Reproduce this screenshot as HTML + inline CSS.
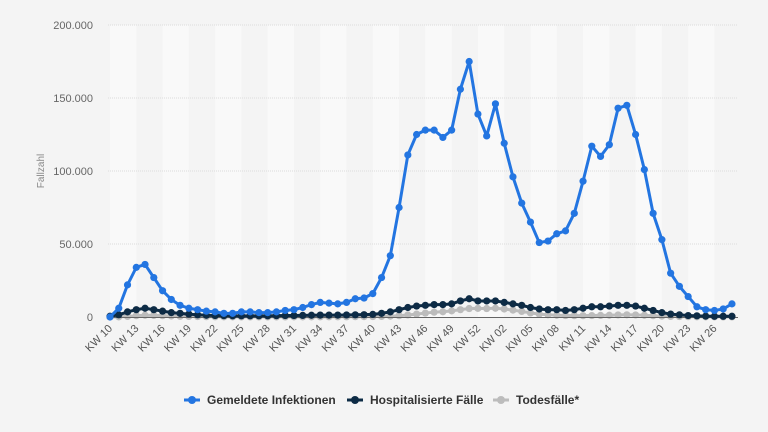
<!DOCTYPE html>
<html><head><meta charset="utf-8"><style>
body{margin:0;background:#f4f4f4;font-family:"Liberation Sans",sans-serif}
#c{position:absolute;left:0;top:0}
</style></head><body>
<svg id="c" width="768" height="432" xmlns="http://www.w3.org/2000/svg"></svg>
<script>
const labels2020=[];for(let k=10;k<=53;k++)labels2020.push("KW "+String(k).padStart(2,"0"));
const labels2021=[];for(let k=1;k<=28;k++)labels2021.push("KW "+String(k).padStart(2,"0"));
const categories=labels2020.concat(labels2021);
const infections=[0,6000,22000,34000,36000,27000,18000,12000,8000,6000,5000,4000,3500,2500,2500,3500,3500,3000,3000,3500,4500,5000,6500,8500,10000,9500,9000,10000,12500,13000,16000,27000,42000,75000,111000,125000,128000,128000,123000,128000,156000,175000,139000,124000,
146000,119000,96000,78000,65000,51000,52000,57000,59000,71000,93000,117000,110000,118000,143000,145000,125000,101000,71000,53000,30000,21000,14000,7000,5000,4500,5500,9000];
const hospital=[500,1500,3500,5000,6000,5000,4000,3000,2500,2000,1500,1200,1000,900,800,800,800,800,800,900,1000,1000,1100,1200,1300,1300,1300,1400,1500,1600,1800,2500,3500,5000,6500,7500,8000,8500,8500,9000,11000,12500,11000,11000,
11000,10000,9000,8000,6500,5500,5000,5000,4500,5000,6000,7000,7000,7500,8000,8000,7500,6000,4500,3000,2000,1500,1000,800,600,500,500,500];
const deaths=[0,100,400,900,1200,1100,900,700,500,400,300,200,150,100,80,60,60,50,50,60,70,80,100,100,120,120,130,150,200,250,300,400,600,900,1400,2000,2700,3300,3600,4200,5000,5800,5900,5800,
6000,5500,4700,3800,2800,2000,1500,1200,1000,900,900,1000,1100,1200,1400,1500,1400,1200,900,600,400,300,200,150,100,80,60,50];
const yTicks=[0,50000,100000,150000,200000];
const yTickLabels=["0","50.000","100.000","150.000","200.000"];
const NS="http://www.w3.org/2000/svg",svg=document.getElementById("c");
const x0=110,dx=8.76,yb=317,yt=25,ymax=200000;
const X=i=>x0+i*dx, Y=v=>yb-(v/ymax)*(yb-yt);
function mk(t,a,p){const e=document.createElementNS(NS,t);for(const k in a)e.setAttribute(k,a[k]);(p||svg).appendChild(e);return e;}
for(let i=0;i<categories.length;i+=6){
 const b=mk("rect",{x:X(i),y:yt,width:3*dx,height:yb-yt,fill:"#f9f9f9"});
 
 
}
yTicks.forEach((v,j)=>{
 if(v>0){const l=mk("line",{x1:108,x2:738,y1:Y(v),y2:Y(v),stroke:"#dcdcdc","stroke-dasharray":"1,1"});
 }
 const t=mk("text",{x:93,y:Y(v)+4,"text-anchor":"end","font-size":"11",fill:"#666"});
 t.textContent=yTickLabels[j];
 
});
const yt2=mk("text",{x:44,y:171,"text-anchor":"middle","font-size":"10",fill:"#888",transform:"rotate(-90 44 171)"});
yt2.textContent="Fallzahl";

categories.forEach((c,i)=>{if(i%3)return;
 const t=mk("text",{x:X(i)+3,y:yb+12,"text-anchor":"end","font-size":"11",fill:"#555",transform:`rotate(-45 ${X(i)+3} ${yb+12})`});
 t.textContent=c;
 
});
function series(vals,col,name,w,r){
 const g=mk("g",{});
 
 mk("polyline",{points:vals.map((v,i)=>X(i)+","+Y(v)).join(" "),fill:"none",stroke:col,"stroke-width":w,"stroke-linejoin":"round"},g);
 vals.forEach((v,i)=>{const c=mk("circle",{cx:X(i),cy:Y(v),r:r,fill:col},g);
  });
}
series(deaths,"#bcbcbc","series-deaths",3,3.6);
const ax=mk("line",{x1:108,x2:738,y1:yb+0.5,y2:yb+0.5,stroke:"#666","stroke-width":1});

series(hospital,"#0d2b45","series-hospital",3,3.6);
series(infections,"#2375e1","series-infections",3,3.6);
const leg=[["#2375e1","Gemeldete Infektionen",185],["#0d2b45","Hospitalisierte Fälle",348],["#bcbcbc","Todesfälle*",494]];
leg.forEach(([c,t,x])=>{const g=mk("g",{});
 
 mk("line",{x1:x-1,x2:x+15,y1:400,y2:400,stroke:c,"stroke-width":3},g);
 mk("circle",{cx:x+7,cy:400,r:4,fill:c},g);
 const tx=mk("text",{x:x+22,y:404,"font-size":"12","font-weight":"bold",fill:"#333"},g);tx.textContent=t;});
</script>
</body></html>
